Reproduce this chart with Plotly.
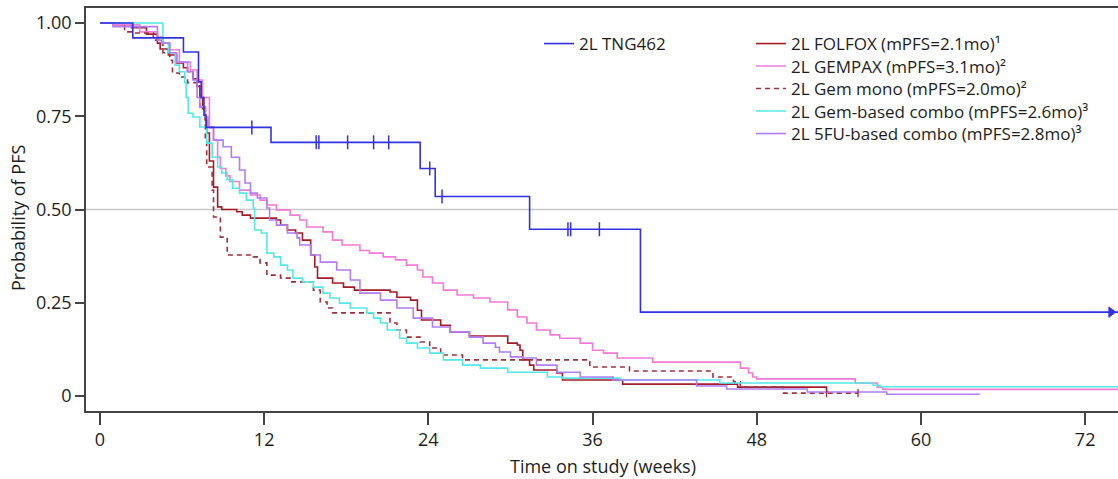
import plotly.graph_objects as go

# ---------------- data (weeks, probability of PFS) ----------------
tng_t = [0, 2.4, 6.1, 7.2, 7.4, 7.6, 7.75, 12.5, 23.4, 24.5, 31.4, 39.5, 74.4]
tng_s = [1.0, 0.96, 0.922, 0.842, 0.80, 0.753, 0.72, 0.68, 0.61, 0.535, 0.447, 0.225, 0.225]
tng_cens_t = [11.1, 15.8, 16.0, 18.1, 20.0, 21.1, 24.1, 25.0, 34.2, 34.4, 36.5]
tng_cens_s = [0.72, 0.68, 0.68, 0.68, 0.68, 0.68, 0.61, 0.535, 0.447, 0.447, 0.447]
tng_end_t = [73.9]
tng_end_s = [0.225]

folfox_t = [0, 1.1, 2.3, 3.4, 4.2, 4.4, 5.0, 5.6, 6.1, 6.4, 6.8, 7.1, 7.3, 7.5, 7.7, 7.8, 8.0, 8.3,
            8.6, 8.9, 10.0, 10.4, 11.0, 12.9, 13.2, 13.7, 14.3, 14.8, 15.4, 15.7, 15.9, 17.0, 17.8,
            18.6, 21.2, 21.7, 22.7, 23.2, 23.5, 24.9, 25.6, 27.0, 29.8, 30.5, 30.7, 30.9, 31.4,
            31.7, 33.4, 33.8, 38.2, 46.6, 53.1, 53.3]
folfox_s = [1.0, 0.995, 0.987, 0.97, 0.946, 0.93, 0.914, 0.893, 0.88, 0.87, 0.85, 0.83, 0.80,
            0.77, 0.74, 0.705, 0.63, 0.56, 0.507, 0.50, 0.494, 0.485, 0.477, 0.472, 0.458, 0.445,
            0.437, 0.418, 0.378, 0.346, 0.316, 0.303, 0.292, 0.284, 0.279, 0.265, 0.257, 0.23,
            0.204, 0.19, 0.172, 0.161, 0.142, 0.137, 0.123, 0.097, 0.083, 0.07, 0.062, 0.043,
            0.032, 0.024, 0.011, 0.011]

gempax_t = [0, 0.95, 2.9, 4.2, 4.6, 5.1, 5.8, 6.6, 7.1, 7.5, 8.0, 8.3, 8.6, 8.8, 9.2, 9.5, 10.2,
            11.0, 11.7, 12.2, 12.9, 13.9, 14.6, 15.1, 16.3, 17.0, 17.7, 19.0, 19.7, 20.7, 21.6,
            22.4, 23.2, 23.6, 24.3, 25.1, 26.1, 27.3, 28.5, 29.8, 30.5, 31.2, 31.9, 32.9, 33.6,
            35.1, 36.0, 36.8, 37.8, 40.4, 46.8, 47.4, 47.7, 48.0, 55.2, 56.8, 57.2, 74.4]
gempax_s = [1.0, 0.995, 0.976, 0.963, 0.946, 0.928, 0.895, 0.874, 0.847, 0.80, 0.72, 0.686, 0.64,
            0.61, 0.59, 0.575, 0.552, 0.539, 0.525, 0.512, 0.499, 0.485, 0.472, 0.453, 0.44,
            0.418, 0.405, 0.39, 0.383, 0.373, 0.365, 0.351, 0.338, 0.319, 0.303, 0.284, 0.271,
            0.263, 0.252, 0.231, 0.212, 0.196, 0.177, 0.164, 0.155, 0.142, 0.123, 0.115, 0.102,
            0.091, 0.075, 0.062, 0.051, 0.046, 0.035, 0.024, 0.018, 0.018]

gemmono_t = [0, 1.8, 2.4, 3.9, 4.6, 5.1, 5.3, 5.8, 6.4, 7.3, 7.7, 7.8, 8.2, 8.3, 8.8, 9.3, 11.2,
             11.7, 12.2, 13.2, 13.9, 15.6, 16.1, 16.6, 17.0, 21.2, 21.7, 22.4, 23.4, 24.1, 24.9,
             26.5, 35.8, 38.7, 44.8, 46.3, 46.8, 49.9, 55.4]
gemmono_s = [1.0, 0.976, 0.973, 0.954, 0.92, 0.90, 0.866, 0.855, 0.84, 0.775, 0.686, 0.614,
             0.552, 0.48, 0.426, 0.378, 0.373, 0.357, 0.324, 0.316, 0.306, 0.284, 0.252, 0.236,
             0.223, 0.196, 0.177, 0.158, 0.145, 0.129, 0.110, 0.097, 0.078, 0.067, 0.051, 0.038,
             0.024, 0.008, 0.008]
gemmono_cens_t = [53.1, 55.4]
gemmono_cens_s = [0.008, 0.008]

gemcombo_t = [0, 4.6, 5.0, 5.5, 5.8, 6.2, 6.3, 6.45, 6.8, 7.3, 7.8, 8.2, 8.6, 8.9, 9.3, 9.7, 10.2,
              10.7, 11.2, 11.3, 11.8, 12.2, 12.7, 13.2, 13.7, 14.1, 14.8, 15.6, 16.3, 16.8, 17.5,
              18.3, 19.5, 20.0, 20.5, 21.0, 21.9, 22.4, 23.2, 24.1, 25.1, 26.5, 27.8, 29.8, 32.7,
              33.8, 38.0, 45.3, 56.5, 57.0, 74.4]
gemcombo_s = [1.0, 0.946, 0.92, 0.887, 0.869, 0.84, 0.80, 0.758, 0.748, 0.721, 0.678, 0.64,
              0.614, 0.598, 0.58, 0.557, 0.544, 0.525, 0.504, 0.445, 0.437, 0.383, 0.373, 0.351,
              0.338, 0.316, 0.306, 0.292, 0.276, 0.263, 0.249, 0.236, 0.223, 0.209, 0.196, 0.177,
              0.155, 0.142, 0.129, 0.115, 0.097, 0.083, 0.075, 0.064, 0.051, 0.048, 0.043, 0.035,
              0.029, 0.025, 0.025]

fu_t = [0, 0.95, 4.2, 4.5, 5.1, 5.6, 6.4, 6.8, 7.1, 7.3, 7.7, 7.9, 8.3, 9.0, 9.6, 10.2, 10.6,
        11.0, 11.5, 12.2, 12.4, 12.9, 13.7, 14.4, 14.6, 15.4, 16.1, 17.3, 18.3, 19.0, 20.5, 21.7,
        22.9, 24.3, 25.6, 27.0, 28.0, 28.9, 29.2, 30.0, 30.9, 31.9, 33.4, 35.1, 37.5, 43.6, 45.8,
        51.7, 57.5, 64.3]
fu_s = [1.0, 0.99, 0.954, 0.946, 0.92, 0.895, 0.869, 0.847, 0.80, 0.775, 0.748, 0.72, 0.686,
        0.668, 0.64, 0.606, 0.571, 0.544, 0.531, 0.504, 0.472, 0.458, 0.437, 0.424, 0.405, 0.378,
        0.359, 0.338, 0.311, 0.276, 0.257, 0.236, 0.209, 0.185, 0.172, 0.158, 0.142, 0.131,
        0.118, 0.105, 0.102, 0.083, 0.064, 0.051, 0.043, 0.027, 0.019, 0.011, 0.005, 0.005]

x_ticks = [0, 12, 24, 36, 48, 60, 72]
y_ticks = [0, 0.25, 0.5, 0.75, 1.0]
y_ticktext = ["0", "0.25", "0.50", "0.75", "1.00"]

x_title = "Time on study (weeks)"
y_title = "Probability of PFS"

names = {
    "tng": "2L TNG462",
    "folfox": "2L FOLFOX (mPFS=2.1mo)¹",
    "gempax": "2L GEMPAX (mPFS=3.1mo)²",
    "gemmono": "2L Gem mono (mPFS=2.0mo)²",
    "gemcombo": "2L Gem-based combo (mPFS=2.6mo)³",
    "fu": "2L 5FU-based combo (mPFS=2.8mo)³",
}

C_TNG = "rgb(50,50,228)"
C_FOLFOX = "rgb(165,28,40)"
C_GEMPAX = "rgb(242,122,216)"
C_GEMMONO = "rgb(160,48,60)"
C_GEMCOMBO = "rgb(84,232,232)"
C_FU = "rgb(176,126,240)"

FONT = "Open Sans"
TXT = "#1e1e1e"

# ---- layout geometry (pixels) ----
W, H = 1118, 479
ML, MR, MT, MB = 86, 0, 8, 68
PW, PH = W - ML - MR, H - MT - MB

def px_x(px):
    return (px - ML) / PW

def px_y(py):
    return (H - MB - py) / PH

fig = go.Figure()

def km(t, s, name, color, legend, dash="solid", width=1.6):
    fig.add_trace(go.Scatter(x=t, y=s, mode="lines",
                             line=dict(color=color, width=width, dash=dash, shape="hv"),
                             name=name, legend=legend))

km(folfox_t, folfox_s, names["folfox"], C_FOLFOX, "legend2")
km(gempax_t, gempax_s, names["gempax"], C_GEMPAX, "legend3")
km(gemmono_t, gemmono_s, names["gemmono"], C_GEMMONO, "legend4", dash="5px,4px")
km(gemcombo_t, gemcombo_s, names["gemcombo"], C_GEMCOMBO, "legend5")
km(fu_t, fu_s, names["fu"], C_FU, "legend6")

fig.add_trace(go.Scatter(x=gemmono_cens_t, y=gemmono_cens_s, mode="markers",
                         marker=dict(symbol="line-ns", size=6, line=dict(color=C_GEMMONO, width=1.3)),
                         showlegend=False))

km(tng_t, tng_s, names["tng"], C_TNG, "legend")
fig.add_trace(go.Scatter(x=tng_cens_t, y=tng_cens_s, mode="markers",
                         marker=dict(symbol="line-ns", size=10, line=dict(color=C_TNG, width=1.5)),
                         showlegend=False))
fig.add_trace(go.Scatter(x=tng_end_t, y=tng_end_s, mode="markers", cliponaxis=False,
                         marker=dict(symbol="triangle-right", size=9, color=C_TNG,
                                     line=dict(color=C_TNG, width=1)),
                         showlegend=False))

fig.add_shape(type="line", xref="paper", yref="y", x0=0, x1=1, y0=0.5, y1=0.5,
              line=dict(color="#c8c8c8", width=1.5), layer="below")

tick_font = dict(family=FONT, size=18, color=TXT)
title_font = dict(family=FONT, size=18, color=TXT)
leg_font = dict(family=FONT, size=17, color=TXT)

def leg(xpx, ypx):
    return dict(x=px_x(xpx), y=px_y(ypx), xanchor="left", yanchor="middle",
                bgcolor="rgba(0,0,0,0)", font=leg_font, borderwidth=0)

fig.update_layout(
    width=W, height=H,
    margin=dict(l=ML, r=MR, t=MT, b=MB),
    paper_bgcolor="white", plot_bgcolor="white",
    font=dict(family=FONT, size=17, color=TXT),
    xaxis=dict(range=[-1.02, 74.4], tickvals=x_ticks, ticks="outside", ticklen=12, tickwidth=1.5,
               tickcolor="#444", showline=True, linecolor="#444", linewidth=1.5, mirror=True,
               showgrid=False, zeroline=False, tickfont=tick_font, automargin=False),
    yaxis=dict(range=[-0.04, 1.04], tickvals=y_ticks, ticktext=y_ticktext, ticks="outside",
               ticklen=9, tickwidth=1.5, tickcolor="#444", showline=True, linecolor="#444",
               linewidth=1.5, showgrid=False, zeroline=False, tickfont=tick_font,
               automargin=False),
    legend=leg(539, 44),
    legend2=leg(751, 44),
    legend3=leg(751, 66.5),
    legend4=leg(751, 89),
    legend5=leg(751, 111.5),
    legend6=leg(751, 134),
    showlegend=True,
)

fig.add_annotation(text=x_title, xref="paper", yref="paper", x=px_x(603), y=px_y(466),
                   xanchor="center", yanchor="middle", showarrow=False, font=title_font)
fig.add_annotation(text=y_title, xref="paper", yref="paper", x=px_x(18), y=px_y(218),
                   xanchor="center", yanchor="middle", showarrow=False, textangle=-90,
                   font=title_font)

fig.write_html("out.html", config={"displayModeBar": False},
               post_script="document.body.style.margin='0';")
